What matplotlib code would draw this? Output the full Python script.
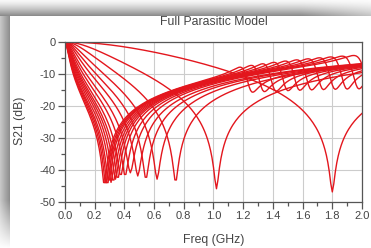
import numpy as np
import matplotlib
matplotlib.use("Agg")
import matplotlib.pyplot as plt
from matplotlib.ticker import MultipleLocator

# ---------------- data ----------------
# first (self-resonance) notch frequency of each curve, GHz
notch_ghz = [0.265, 0.275, 0.285, 0.295, 0.31, 0.325, 0.34, 0.355, 0.375,
             0.405, 0.44, 0.49, 0.545, 0.62, 0.745, 1.02, 1.80]
# notch depth of each curve, dB
notch_db = [-45, -45, -45, -44, -44, -44, -43, -43, -42,
            -42, -41, -42, -43, -43, -44, -46, -47]
# series inductance of each curve, nH
esl_nh = [1.1] * 15 + [0.95, 0.8]
# second (parasitic) resonance of each curve, GHz (None = none)
second_ghz = [1.25, 1.33, 1.41, 1.49, 1.57, 1.65, 1.73, 1.81, 1.89,
              1.97, 2.05, None, None, None, None, None, None]

freq_ghz = np.round(np.arange(0.0, 2.0001, 0.01), 3)
freq_ghz[0] = 0.001

x_ticks = [0.0, 0.2, 0.4, 0.6, 0.8, 1.0, 1.2, 1.4, 1.6, 1.8, 2.0]
y_ticks = [0, -10, -20, -30, -40, -50]

Z0 = 50.0
L2_NH = 15.0
R2 = 6.5


def s21_db(f1, depth, l_nh, f2):
    w = 2 * np.pi * freq_ghz * 1e9
    L1 = l_nh * 1e-9
    C1 = 1.0 / ((2 * np.pi * f1 * 1e9) ** 2 * L1)
    a = 10 ** (depth / 20.0)
    R1 = a * Z0 / (2 * (1 - a))
    Z = R1 + 1j * w * L1 + 1.0 / (1j * w * C1)
    if f2 is not None:
        L2 = L2_NH * 1e-9
        C2 = 1.0 / ((2 * np.pi * f2 * 1e9) ** 2 * L2)
        Zb = R2 + 1j * w * L2 + 1.0 / (1j * w * C2)
        Z = Z * Zb / (Z + Zb)
    s = 2 * Z / (2 * Z + Z0)
    return 20 * np.log10(np.abs(s))


# ---------------- figure ----------------
W, H = 371, 248
fig = plt.figure(figsize=(W / 100, H / 100), dpi=100)

# shadow background
bg = np.ones((H, W, 3))
yy, xx = np.mgrid[0:H, 0:W]
top = yy < 16
vt = 0.97 - 0.42 * (yy / 15.0) ** 1.3
fade_r = np.clip((xx - 300) / 71.0, 0, 1)
vt = vt + (1 - vt) * 0.5 * fade_r
left = (xx < 10) & ~top
vl = 0.78 - 0.22 * (xx / 9.0)
fade_b = np.clip((yy - 200) / 48.0, 0, 1)
vl = vl + (1 - vl) * fade_b
val = np.where(top, vt, np.where(left, vl, 1.0))
bg[:] = val[..., None]
bax = fig.add_axes([0, 0, 1, 1], zorder=-10)
bax.imshow(bg, aspect="auto", interpolation="bilinear")
bax.axis("off")

ax = fig.add_axes([65 / W, 1 - 201.5 / H, (362 - 65) / W, (201.5 - 42) / H])
red = "#e3161d"
for f1, d, l, f2 in zip(notch_ghz, notch_db, esl_nh, second_ghz):
    ax.plot(freq_ghz, s21_db(f1, d, l, f2), color=red, lw=1.0, clip_on=True)

ax.set_xlim(0, 2.0)
ax.set_ylim(-50, 0)
ax.set_xticks(x_ticks)
ax.set_xticklabels([f"{v:.1f}" for v in x_ticks])
ax.set_yticks(y_ticks)
ax.set_yticklabels([str(v) for v in y_ticks])
ax.xaxis.set_minor_locator(MultipleLocator(0.1))
ax.yaxis.set_minor_locator(MultipleLocator(5))
ax.grid(True, which="major", color="#cccccc", lw=0.8)
ax.set_axisbelow(True)
tc = "#444444"
for s in ax.spines.values():
    s.set_color("#555555")
    s.set_linewidth(0.9)
ax.tick_params(which="major", length=5, width=0.9, color="#555555",
               labelsize=8, labelcolor=tc, pad=2)
ax.tick_params(which="minor", length=3, width=0.9, color="#555555")
fam = ["Liberation Sans", "DejaVu Sans"]
for lab in ax.get_xticklabels() + ax.get_yticklabels():
    lab.set_family(fam)

fig.text(213.5 / W, 1 - 22 / H, "Full Parasitic Model", ha="center",
         va="center", fontsize=8.8, color=tc, family=fam)
fig.text(213.5 / W, 1 - 240 / H, "Freq (GHz)", ha="center", va="center",
         fontsize=8.8, color=tc, family=fam)
fig.text(20 / W, 1 - 121 / H, "S21 (dB)", ha="center", va="center",
         rotation=90, fontsize=8.8, color=tc, family=fam)

fig.savefig("out.png", dpi=100)
